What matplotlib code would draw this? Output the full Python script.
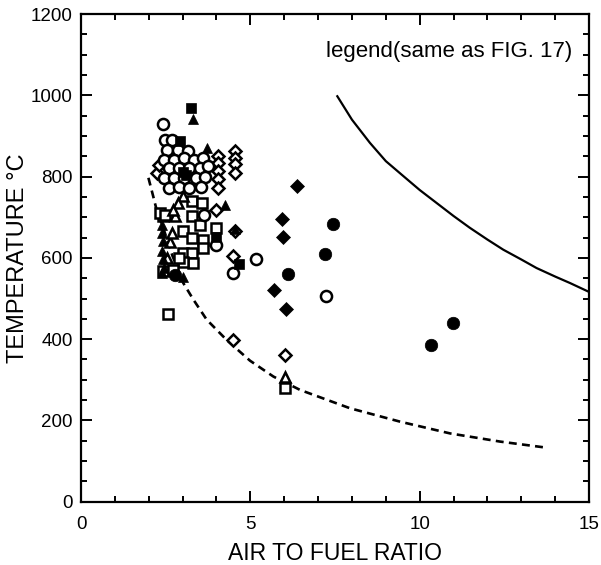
import matplotlib
matplotlib.use("Agg")
import matplotlib.pyplot as plt
from matplotlib.ticker import MultipleLocator

plt.rcParams['font.family'] = ['Liberation Sans', 'DejaVu Sans']

# ---- curves ----
solid_x = [7.55, 8.0, 8.53, 9.0, 9.52, 10.0, 10.50, 11.0, 11.48, 12.0, 12.47, 13.0, 13.45, 14.0, 14.44, 14.98]
solid_T = [1000, 940, 883, 838, 801, 767, 735, 703, 674, 645, 620, 596, 575, 554, 538, 517]

dash_x = [1.99, 2.13, 2.23, 2.45, 2.70, 3.02, 3.32, 3.71, 4.30, 4.99, 5.68, 6.47, 7.94, 9.42, 10.9, 12.37, 13.65]
dash_T = [797, 752, 719, 668, 605, 538, 497, 448, 398, 347, 308, 275, 230, 197, 168, 148, 134]

# ---- data points by symbol ----
open_circle_x = [2.41, 2.48, 2.68, 2.55, 2.85, 3.15, 2.45, 2.75, 3.05, 3.35, 3.60,
                 2.60, 2.90, 3.20, 3.50, 3.75, 2.45, 2.75, 3.05, 3.40, 3.65,
                 2.60, 2.90, 3.20, 3.55, 3.63, 4.00, 5.17, 4.50, 7.23]
open_circle_T = [930, 891, 891, 866, 866, 862, 841, 841, 845, 841, 846,
                 822, 822, 822, 820, 825, 797, 797, 797, 797, 800,
                 773, 775, 773, 775, 705, 632, 596, 563, 505]

filled_circle_x = [7.45, 7.20, 6.12, 10.32, 10.99, 2.78]
filled_circle_T = [684, 610, 560, 386, 440, 559]

open_square_x = [2.58, 6.02, 2.43, 3.27, 3.27, 3.56, 2.33, 2.48, 3.02, 3.27, 3.61, 3.61,
                 4.00, 3.02, 3.27, 3.32, 3.02, 2.43, 2.72, 2.90, 3.50]
open_square_T = [462, 279, 702, 739, 702, 735, 711, 706, 665, 649, 645, 624,
                 674, 612, 612, 587, 591, 567, 571, 600, 680]

filled_square_x = [3.24, 2.92, 3.00, 3.10, 4.00, 4.67]
filled_square_T = [969, 887, 812, 805, 652, 586]

open_diamond_x = [4.55, 4.55, 4.55, 4.55, 4.05, 4.05, 4.05, 4.05, 4.05, 2.23, 2.30,
                  4.00, 4.55, 4.50, 4.50, 6.02]
open_diamond_T = [862, 846, 830, 809, 850, 834, 813, 793, 773, 809, 828,
                  719, 665, 604, 398, 361]

filled_diamond_x = [6.37, 5.92, 5.95, 5.70, 6.04]
filled_diamond_T = [776, 696, 651, 522, 474]

open_triangle_x = [6.02, 2.78, 3.02, 2.87, 2.72, 2.55, 2.62, 2.70]
open_triangle_T = [308, 702, 752, 735, 719, 600, 640, 660]

filled_triangle_x = [3.32, 3.71, 4.25, 4.55, 2.38, 2.38, 2.42, 2.38, 2.42, 2.45, 2.40, 3.02]
filled_triangle_T = [941, 871, 731, 672, 681, 661, 641, 616, 596, 575, 563, 554]

x_ticks = [0, 5, 10, 15]
y_ticks = [0, 200, 400, 600, 800, 1000, 1200]
note_text = "legend(same as FIG. 17)"

fig = plt.figure(figsize=(6.01, 5.65), dpi=100)
ax = fig.add_axes([0.1348, 0.112, 0.8453, 0.8632])

ax.plot(solid_x, solid_T, color='black', lw=1.6, solid_capstyle='butt')
ax.plot(dash_x, dash_T, color='black', lw=1.9, linestyle=(0, (3, 2)))

ec = 'black'
ax.plot(open_square_x, open_square_T, 's', ms=7, mfc='white', mec=ec, mew=1.8, ls='none')
ax.plot(open_triangle_x, open_triangle_T, '^', ms=7.5, mfc='white', mec=ec, mew=1.8, ls='none')
ax.plot(open_diamond_x, open_diamond_T, 'D', ms=6.3, mfc='white', mec=ec, mew=1.8, ls='none')
ax.plot(open_circle_x, open_circle_T, 'o', ms=8, mfc='white', mec=ec, mew=1.8, ls='none')
ax.plot(filled_square_x, filled_square_T, 's', ms=7, mfc=ec, mec=ec, mew=0.5, ls='none')
ax.plot(filled_triangle_x, filled_triangle_T, '^', ms=7.5, mfc=ec, mec=ec, mew=0.5, ls='none')
ax.plot(filled_diamond_x, filled_diamond_T, 'D', ms=6.8, mfc=ec, mec=ec, mew=0.5, ls='none')
ax.plot(filled_circle_x, filled_circle_T, 'o', ms=9, mfc=ec, mec=ec, mew=0.5, ls='none')

ax.set_xlim(0, 15)
ax.set_ylim(0, 1200)
ax.set_xticks(x_ticks)
ax.set_yticks(y_ticks)
ax.xaxis.set_minor_locator(MultipleLocator(1))
ax.yaxis.set_minor_locator(MultipleLocator(50))
ax.tick_params(which='both', direction='in', top=True, right=True, width=1.4, colors='black')
ax.tick_params(which='major', length=8, labelsize=13.5)
ax.tick_params(which='minor', length=4)
ax.tick_params(axis='x', which='major', pad=10)
ax.tick_params(axis='y', which='major', pad=6)
for s in ax.spines.values():
    s.set_linewidth(1.6)

ax.set_xlabel("AIR TO FUEL RATIO", fontsize=16.5)
ax.set_ylabel("TEMPERATURE \u00b0C", fontsize=17)
ax.xaxis.set_label_coords(0.5, -0.082)
ax.yaxis.set_label_coords(-0.124, 0.5)
ax.yaxis.label.set_va('center')

ax.text(14.5, 1108, note_text, ha='right', va='center', fontsize=16)

fig.savefig("out.png", dpi=100)
